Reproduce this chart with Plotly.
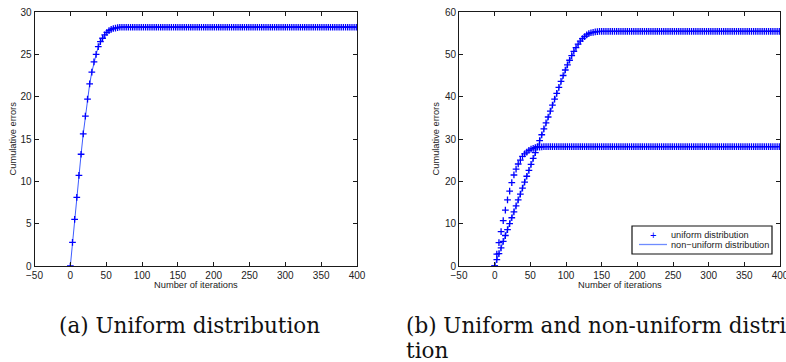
import plotly.graph_objects as go

# ---------------- data ----------------
iterations = [
    0, 3, 6, 9, 12, 15, 18, 21, 24, 27, 30, 33, 36, 39, 42, 45, 48, 51, 54, 57,
    60, 63, 66, 69, 72, 75, 78, 81, 84, 87, 90, 93, 96, 99, 102, 105, 108, 111, 114, 117,
    120, 123, 126, 129, 132, 135, 138, 141, 144, 147, 150, 153, 156, 159, 162, 165, 168, 171, 174, 177,
    180, 183, 186, 189, 192, 195, 198, 201, 204, 207, 210, 213, 216, 219, 222, 225, 228, 231, 234, 237,
    240, 243, 246, 249, 252, 255, 258, 261, 264, 267, 270, 273, 276, 279, 282, 285, 288, 291, 294, 297,
    300, 303, 306, 309, 312, 315, 318, 321, 324, 327, 330, 333, 336, 339, 342, 345, 348, 351, 354, 357,
    360, 363, 366, 369, 372, 375, 378, 381, 384, 387, 390, 393, 396, 399,
]

uniform_errors = [
    0, 2.8, 5.5, 8.1, 10.7, 13.2, 15.6, 17.7, 19.7, 21.5, 22.9, 24.1, 25.0, 25.9,
    26.5, 26.9, 27.3, 27.6, 27.8, 27.95, 28.05, 28.1, 28.15, 28.2,
    28.2, 28.2, 28.2, 28.2, 28.2, 28.2, 28.2, 28.2, 28.2, 28.2,
    28.2, 28.2, 28.2, 28.2, 28.2, 28.2, 28.2, 28.2, 28.2, 28.2,
    28.2, 28.2, 28.2, 28.2, 28.2, 28.2, 28.2, 28.2, 28.2, 28.2,
    28.2, 28.2, 28.2, 28.2, 28.2, 28.2, 28.2, 28.2, 28.2, 28.2,
    28.2, 28.2, 28.2, 28.2, 28.2, 28.2, 28.2, 28.2, 28.2, 28.2,
    28.2, 28.2, 28.2, 28.2, 28.2, 28.2, 28.2, 28.2, 28.2, 28.2,
    28.2, 28.2, 28.2, 28.2, 28.2, 28.2, 28.2, 28.2, 28.2, 28.2,
    28.2, 28.2, 28.2, 28.2, 28.2, 28.2, 28.2, 28.2, 28.2, 28.2,
    28.2, 28.2, 28.2, 28.2, 28.2, 28.2, 28.2, 28.2, 28.2, 28.2,
    28.2, 28.2, 28.2, 28.2, 28.2, 28.2, 28.2, 28.2, 28.2, 28.2,
    28.2, 28.2, 28.2, 28.2, 28.2, 28.2, 28.2, 28.2, 28.2, 28.2,
]

nonuniform_errors = [
    0, 1.5, 2.9, 4.3, 5.8, 7.2, 8.6, 10.0, 11.4, 12.8, 14.2, 15.6, 17.0, 18.4,
    19.8, 21.2, 22.6, 24.0, 25.4, 26.8, 28.2, 29.6, 31.0, 32.4, 33.8, 35.2, 36.6,
    38.0, 39.4, 40.8, 42.2, 43.6, 45.0, 46.3, 47.5, 48.6, 49.7, 50.7, 51.6, 52.4,
    53.1, 53.7, 54.2, 54.6, 54.9, 55.1, 55.2, 55.3, 55.35, 55.4,
    55.4, 55.4, 55.4, 55.4, 55.4, 55.4, 55.4, 55.4, 55.4, 55.4,
    55.4, 55.4, 55.4, 55.4, 55.4, 55.4, 55.4, 55.4, 55.4, 55.4,
    55.4, 55.4, 55.4, 55.4, 55.4, 55.4, 55.4, 55.4, 55.4, 55.4,
    55.4, 55.4, 55.4, 55.4, 55.4, 55.4, 55.4, 55.4, 55.4, 55.4,
    55.4, 55.4, 55.4, 55.4, 55.4, 55.4, 55.4, 55.4, 55.4, 55.4,
    55.4, 55.4, 55.4, 55.4, 55.4, 55.4, 55.4, 55.4, 55.4, 55.4,
    55.4, 55.4, 55.4, 55.4, 55.4, 55.4, 55.4, 55.4, 55.4, 55.4,
    55.4, 55.4, 55.4, 55.4, 55.4, 55.4, 55.4, 55.4, 55.4, 55.4,
    55.4, 55.4, 55.4, 55.4,
]

x_ticks = [-50, 0, 50, 100, 150, 200, 250, 300, 350, 400]
y_ticks_a = [0, 5, 10, 15, 20, 25, 30]
y_ticks_b = [0, 10, 20, 30, 40, 50, 60]

x_title = "Number of iterations"
y_title = "Cumulative errors"
legend_names = ["uniform distribution", "non\u2212uniform distribution"]
caption_a = "(a) Uniform distribution"
caption_b1 = "(b) Uniform and non-uniform distribu-"
caption_b2 = "tion"

# ---------------- styles ----------------
W, H = 786, 362
MARK_BLUE = "#0000ff"
LINE_BLUE = "#3d5cff"
SANS = "Liberation Sans, Arial, Helvetica, sans-serif"
SERIF = "DejaVu Serif, serif"
TEXT = "#222222"

marker_style = dict(symbol="cross-thin", size=4.8, color=MARK_BLUE,
                    line=dict(color=MARK_BLUE, width=1.3))


def px_x(p):
    return p / W


def px_y(p):
    return 1 - p / H


fig = go.Figure()

# (a) uniform distribution
fig.add_trace(go.Scatter(
    x=iterations, y=uniform_errors, mode="lines+markers", name=legend_names[0],
    line=dict(color=LINE_BLUE, width=1), marker=marker_style,
    xaxis="x", yaxis="y",
))

# (b) uniform and non-uniform
fig.add_trace(go.Scatter(
    x=iterations, y=uniform_errors, mode="markers", name=legend_names[0],
    marker=marker_style, xaxis="x2", yaxis="y2",
))
fig.add_trace(go.Scatter(
    x=iterations, y=nonuniform_errors, mode="lines+markers", name=legend_names[1],
    line=dict(color=LINE_BLUE, width=1), marker=marker_style,
    xaxis="x2", yaxis="y2",
))

axis_common = dict(
    showline=True, linecolor="#1a1a1a", linewidth=1, mirror="ticks",
    ticks="inside", ticklen=4, tickwidth=1, tickcolor="#1a1a1a",
    showgrid=False, zeroline=False, automargin=False,
    ticklabeloverflow="allow",
    tickfont=dict(family=SANS, size=10, color=TEXT),
)

left_a, right_a = 34.5, 357
left_b, right_b = 459, 780
top, bottom = 12, 266

fig.update_layout(
    width=W, height=H,
    margin=dict(l=0, r=0, t=0, b=0, pad=0),
    paper_bgcolor="white", plot_bgcolor="white",
    showlegend=False,
    xaxis=dict(domain=[px_x(left_a), px_x(right_a)], range=[-50, 400],
               tickvals=x_ticks, anchor="y", **axis_common),
    yaxis=dict(domain=[px_y(bottom), px_y(top)], range=[0, 30],
               tickvals=y_ticks_a, anchor="x", **axis_common),
    xaxis2=dict(domain=[px_x(left_b), px_x(right_b)], range=[-50, 400],
                tickvals=x_ticks, anchor="y2", **axis_common),
    yaxis2=dict(domain=[px_y(bottom), px_y(top)], range=[0, 60],
                tickvals=y_ticks_b, anchor="x2", **axis_common),
)

annotations = [
    # axis titles
    dict(text=x_title, x=px_x((left_a + right_a) / 2), y=px_y(285)),
    dict(text=x_title, x=px_x((left_b + right_b) / 2), y=px_y(285)),
    dict(text=y_title, x=px_x(12.5), y=px_y((top + bottom) / 2), textangle=-90),
    dict(text=y_title, x=px_x(435.5), y=px_y((top + bottom) / 2), textangle=-90),
]
for a in annotations:
    a.update(xref="paper", yref="paper", xanchor="center", yanchor="middle",
             showarrow=False, font=dict(family=SANS, size=9.3, color=TEXT))

# legend box for panel (b), drawn as shapes + text
leg_x0, leg_x1, leg_y0, leg_y1 = 632, 772, 226, 254
shapes = [
    dict(type="rect", xref="paper", yref="paper",
         x0=px_x(leg_x0), x1=px_x(leg_x1), y0=px_y(leg_y1), y1=px_y(leg_y0),
         line=dict(color="#111111", width=1.2), fillcolor="white", layer="above"),
    dict(type="line", xref="paper", yref="paper",
         x0=px_x(639), x1=px_x(667), y0=px_y(244.5), y1=px_y(244.5),
         line=dict(color="#6f8cff", width=1.3), layer="above"),
]
legend_texts = [
    dict(text="+", x=px_x(653), y=px_y(234.5), xanchor="center",
         font=dict(family=SANS, size=11, color=MARK_BLUE)),
    dict(text=legend_names[0], x=px_x(669), y=px_y(234.5), xanchor="left",
         font=dict(family=SANS, size=9.2, color=TEXT)),
    dict(text=legend_names[1], x=px_x(669), y=px_y(245), xanchor="left",
         font=dict(family=SANS, size=9.2, color=TEXT)),
]
for t in legend_texts:
    t.update(xref="paper", yref="paper", yanchor="middle", showarrow=False)

captions = [
    dict(text=caption_a, x=px_x(57), y=px_y(325)),
    dict(text=caption_b1, x=px_x(404), y=px_y(325)),
    dict(text=caption_b2, x=px_x(404), y=px_y(350)),
]
for c in captions:
    c.update(xref="paper", yref="paper", xanchor="left", yanchor="middle",
             showarrow=False, font=dict(family=SERIF, size=21.5, color="#111111"))

fig.update_layout(annotations=annotations + legend_texts + captions, shapes=shapes)

# remove the browser's default 8px body margin so the figure fills the window
fig.write_html(
    "out.html",
    config={"displayModeBar": False},
    post_script="document.body.style.margin='0';document.body.style.overflow='hidden';",
)
